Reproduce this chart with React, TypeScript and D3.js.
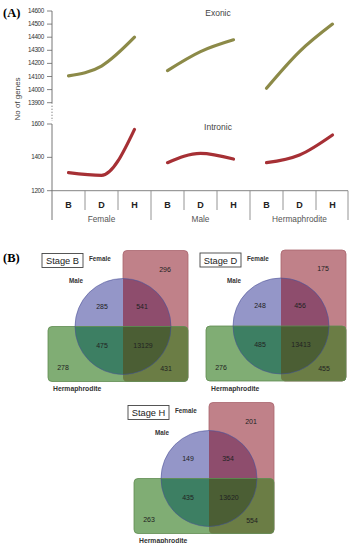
import React from "react"
import * as d3 from "d3"

// gene counts per sex and stage
const sexes = ["Female", "Male", "Hermaphrodite"]
const stages = ["B", "D", "H"]
const exonic = [
    [14105, 14180, 14400],
    [14145, 14290, 14380],
    [14010, 14290, 14500],
]
const intronic = [
    [1308, 1292, 1568],
    [1368, 1424, 1390],
    [1368, 1414, 1534],
]
const exonicTicks = [13900, 14000, 14100, 14200, 14300, 14400, 14500, 14600]
const intronicTicks = [1200, 1400, 1600]

// venn counts: femaleOnly, maleOnly, female&male, male&herm, all, hermOnly, female&herm
const vennStages = ["Stage B", "Stage D", "Stage H"]
const vennCounts = [
    [296, 285, 541, 475, 13129, 278, 431],
    [175, 248, 456, 485, 13413, 276, 455],
    [201, 149, 354, 435, 13620, 263, 554],
]

const W = 349, H = 543
const sans = "'Liberation Sans', Arial, sans-serif"

const keys = sexes.flatMap(s => stages.map(st => s + "-" + st))
const x = d3.scaleBand().domain(keys).range([52, 349])
const yEx = d3.scaleLinear().domain([13900, 14600]).range([102.7, 11])
const yIn = d3.scaleLinear().domain([1200, 1600]).range([190.7, 124])

const lineEx = d3.line<[string, number]>().x(d => x(d[0])! + x.bandwidth() / 2).y(d => yEx(d[1])).curve(d3.curveMonotoneX)
const lineIn = d3.line<[string, number]>().x(d => x(d[0])! + x.bandwidth() / 2).y(d => yIn(d[1])).curve(d3.curveMonotoneX)

const LinePanel = () => {
    const axisX = x.range()[0]
    const base = yIn(1200)
    return (
        <g fontFamily={sans}>
            <text x={3} y={17} fontFamily="'Liberation Serif', serif" fontWeight="bold" fontSize={12.5}>(A)</text>
            <text transform={`translate(20,99) rotate(-90)`} textAnchor="middle" fontSize={8} fill="#444">No of genes</text>
            <text x={218} y={15.5} textAnchor="middle" fontSize={8.5} fill="#444">Exonic</text>
            <text x={218} y={130} textAnchor="middle" fontSize={8.5} fill="#444">Intronic</text>

            {/* left axis, broken between the two panels */}
            <line x1={axisX} x2={axisX} y1={yEx(14600)} y2={yEx(13900) + 1} stroke="#666" strokeWidth={0.9} />
            <line x1={axisX} x2={axisX} y1={yEx(13900) + 3} y2={yIn(1600) - 3} stroke="#666" strokeWidth={0.9} strokeDasharray="1.2,1.8" />
            <line x1={axisX} x2={axisX} y1={yIn(1600)} y2={220} stroke="#666" strokeWidth={0.9} />
            {exonicTicks.map(t => (
                <g key={"e" + t} transform={`translate(0,${yEx(t)})`}>
                    <line x1={axisX - 5} x2={axisX} stroke="#666" strokeWidth={0.8} />
                    <text x={axisX - 8} dy="0.33em" textAnchor="end" fontSize={6.3} letterSpacing={-0.3} fill="#333">{t}</text>
                </g>
            ))}
            {intronicTicks.map(t => (
                <g key={"i" + t} transform={`translate(0,${yIn(t)})`}>
                    <line x1={axisX - 5} x2={axisX} stroke="#666" strokeWidth={0.8} />
                    <text x={axisX - 8} dy="0.33em" textAnchor="end" fontSize={6.3} letterSpacing={-0.3} fill="#333">{t}</text>
                </g>
            ))}

            {/* category table under the plot */}
            <line x1={axisX} x2={348} y1={base} y2={base} stroke="#777" strokeWidth={0.9} />
            {keys.map((k, i) => {
                const x0 = x(k)!
                const long = i % 3 === 0
                return (
                    <g key={k}>
                        {i > 0 && <line x1={x0} x2={x0} y1={base} y2={long ? 220 : 210} stroke="#888" strokeWidth={0.9} />}
                        <text x={x0 + x.bandwidth() / 2} y={208.3} textAnchor="middle" fontWeight="bold" fontSize={9} fill="#222">{k.split("-")[1]}</text>
                    </g>
                )
            })}
            <line x1={348} x2={348} y1={base} y2={220} stroke="#888" strokeWidth={0.9} />
            {sexes.map(s => {
                const cx = x(s + "-D")! + x.bandwidth() / 2
                return <text key={s} x={cx} y={221.5} textAnchor="middle" fontSize={8.3} fill="#555">{s}</text>
            })}

            {sexes.map((s, i) => (
                <g key={s} fill="none" strokeWidth={3.2} strokeLinecap="round">
                    <path d={lineEx(stages.map((st, j) => [s + "-" + st, exonic[i][j]]))!} stroke="#8c8a48" />
                    <path d={lineIn(stages.map((st, j) => [s + "-" + st, intronic[i][j]]))!} stroke="#a63035" />
                </g>
            ))}
        </g>
    )
}

const Venn = ({cx, cy, idx}: {cx: number, cy: number, idx: number}) => {
    const r = 48
    const c = vennCounts[idx]
    const pink = {x: cx, y: cy - 76, w: 65, h: 131}
    const green = {x: cx - 75, y: cy, w: 140, h: 55}
    const pid = "pink" + idx, gid = "green" + idx
    const rr = 4
    const numbers: [number, number, number][] = [
        [42, -57, c[0]], [-21, -20, c[1]], [19, -20, c[2]], [-21, 19, c[3]],
        [20, 19, c[4]], [-60, 41.5, c[5]], [43, 42.5, c[6]],
    ]
    return (
        <g fontFamily={sans}>
            <defs>
                <clipPath id={pid}><rect x={pink.x} y={pink.y} width={pink.w} height={pink.h} rx={rr} /></clipPath>
                <clipPath id={gid}><rect x={green.x} y={green.y} width={green.w} height={green.h} rx={rr} /></clipPath>
            </defs>
            <rect x={pink.x} y={pink.y} width={pink.w} height={pink.h} rx={rr} fill="#c08189" stroke="#a8646d" strokeWidth={0.8} />
            <circle cx={cx} cy={cy} r={r} fill="#9496c8" />
            <g clipPath={`url(#${pid})`}>
                <circle cx={cx} cy={cy} r={r} fill="#8e4d6d" />
            </g>
            <rect x={green.x} y={green.y} width={green.w} height={green.h} rx={rr} fill="#80ad74" />
            <g clipPath={`url(#${pid})`}>
                <rect x={green.x} y={green.y} width={green.w} height={green.h} rx={rr} fill="#6b7d45" />
            </g>
            <g clipPath={`url(#${gid})`}>
                <circle cx={cx} cy={cy} r={r} fill="#3d7f63" />
                <g clipPath={`url(#${pid})`}>
                    <circle cx={cx} cy={cy} r={r} fill="#4b5e34" />
                </g>
            </g>
            <rect x={green.x} y={green.y} width={green.w} height={green.h} rx={rr} fill="none" stroke="#5f8c50" strokeWidth={0.8} />
            <circle cx={cx} cy={cy} r={r} fill="none" stroke="#4a4f95" strokeWidth={0.7} opacity={0.8} />

            <rect x={cx - 81} y={cy - 73} width={41} height={14} fill="#fff" stroke="#444" strokeWidth={0.9} />
            <text x={cx - 60.5} y={cy - 62.3} textAnchor="middle" fontSize={9.3} fill="#222">{vennStages[idx]}</text>
            <text x={cx - 34} y={cy - 65.5} fontSize={6.3} fontWeight="bold" fill="#333">Female</text>
            <text x={cx - 54} y={cy - 43.5} fontSize={6.3} fontWeight="bold" fill="#333">Male</text>
            <text x={cx - 70} y={cy + 64.5} fontSize={6.8} fontWeight="bold" fill="#333">Hermaphrodite</text>
            {numbers.map(([dx, dy, v], i) => (
                <text key={i} x={cx + dx} y={cy + dy} dy="0.35em" textAnchor="middle" fontSize={7} fill="#222">{v}</text>
            ))}
        </g>
    )
}

const vennCenters: [number, number][] = [[123, 326.5], [281, 326], [209, 478.5]]

const App = () => (
    <svg width={W} height={H} style={{position: "absolute", left: 0, top: 0, background: "#fff"}}>
        <LinePanel />
        <text x={3} y={262} fontFamily="'Liberation Serif', serif" fontWeight="bold" fontSize={12.5}>(B)</text>
        {vennCenters.map(([cx, cy], i) => <Venn key={i} cx={cx} cy={cy} idx={i} />)}
    </svg>
)

export default App
